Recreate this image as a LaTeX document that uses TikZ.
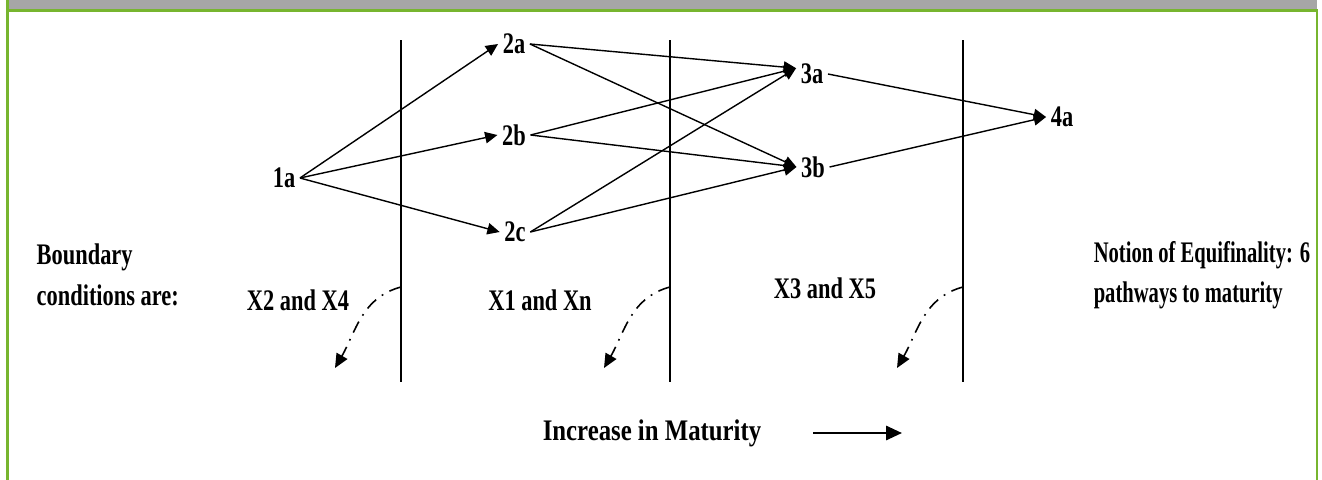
\documentclass[tikz,border=0pt]{standalone}
\usepackage{fontspec}
\setmainfont{Liberation Serif}[FakeStretch=0.75]
\newfontfamily\widefont{Liberation Serif}[FakeStretch=0.83]
\newfontfamily\tightfont{Liberation Serif}[FakeStretch=0.69]
\usepackage{tikz}
\usetikzlibrary{arrows.meta,positioning}
\definecolor{framegreen}{HTML}{77B52F}
\definecolor{bargray}{HTML}{A6A6A6}

\begin{document}
\begin{tikzpicture}[x=0.02cm,y=-0.02cm,
  every node/.style={font=\fontsize{17}{23}\selectfont\bfseries,inner sep=2.5pt},
  label/.style={align=left,anchor=west},
  arrow/.style={-{Triangle[length=7pt,width=6.5pt]},line width=0.8pt},
  boundary/.style={line width=1pt},
  drift/.style={-{Triangle[length=8pt,width=7pt]},line width=0.9pt,
    dash pattern=on 7pt off 4pt on 1pt off 4pt}]
  \useasboundingbox (0,0) rectangle (1322,480);
  % frame
  \fill[bargray] (9,0) rectangle (1317,10);
  \draw[framegreen,line width=1.2pt] (7.5,0) -- (7.5,480);
  \draw[framegreen,line width=1.2pt] (7.5,10.5) -- (1317,10.5) -- (1317,480);
  % stages
  \node (n1a) at (284,178) {1a};
  \node (n2a) at (514,44) {2a};
  \node (n2b) at (514,135) {2b};
  \node (n2c) at (515,232) {2c};
  \node (n3a) at (812,74) {3a};
  \node (n3b) at (813,167) {3b};
  \node (n4a) at (1062,117) {4a};
  \draw[arrow] (n1a.east) -- (n2a.west);
  \draw[arrow] (n1a.east) -- (n2b.west);
  \draw[arrow] (n1a.east) -- (n2c.west);
  \draw[arrow] (n2a.east) -- (n3a.160); \draw[arrow] (n2a.east) -- (n3b.west);
  \draw[arrow] (n2b.east) -- (n3a.160); \draw[arrow] (n2b.east) -- (n3b.west);
  \draw[arrow] (n2c.east) -- (n3a.160); \draw[arrow] (n2c.east) -- (n3b.west);
  \draw[arrow] (n3a.east) -- (n4a.west);
  \draw[arrow] (n3b.east) -- (n4a.west);
  % boundaries
  \foreach \x/\n in {401/1,670/2,963/3} {
    \coordinate (top\n) at (\x,40);
    \coordinate (bot\n) at (\x,382);
    \coordinate (src\n) at (\x,287);
    \coordinate (tip\n) at (\x-66,368);
    \draw[boundary] (top\n) -- (bot\n);
    \draw[drift] (src\n) to[out=195,in=60] (tip\n);
  }
  \node[label] (bound) at (32,275) {Boundary\\conditions are:};
  \node (x24) at (298,300) {X2 and X4};
  \node (x1n) at (540,300) {X1 and Xn};
  \node (x35) at (825,288) {X3 and X5};
  \node[label,font=\fontsize{17}{23}\selectfont\tightfont\bfseries] (equi) at (1089,275)
    {Notion of Equifinality: 6\\pathways to maturity};
  \node[font=\fontsize{17}{23}\selectfont\widefont\bfseries] (mat) at (652,433) {Increase in Maturity};
  \coordinate (matstart) at (813,433);
  \coordinate (matend) at (902,433);
  \draw[-{Triangle[length=9pt,width=8pt]},line width=1.4pt] (matstart) -- (matend);
\end{tikzpicture}
\end{document}
